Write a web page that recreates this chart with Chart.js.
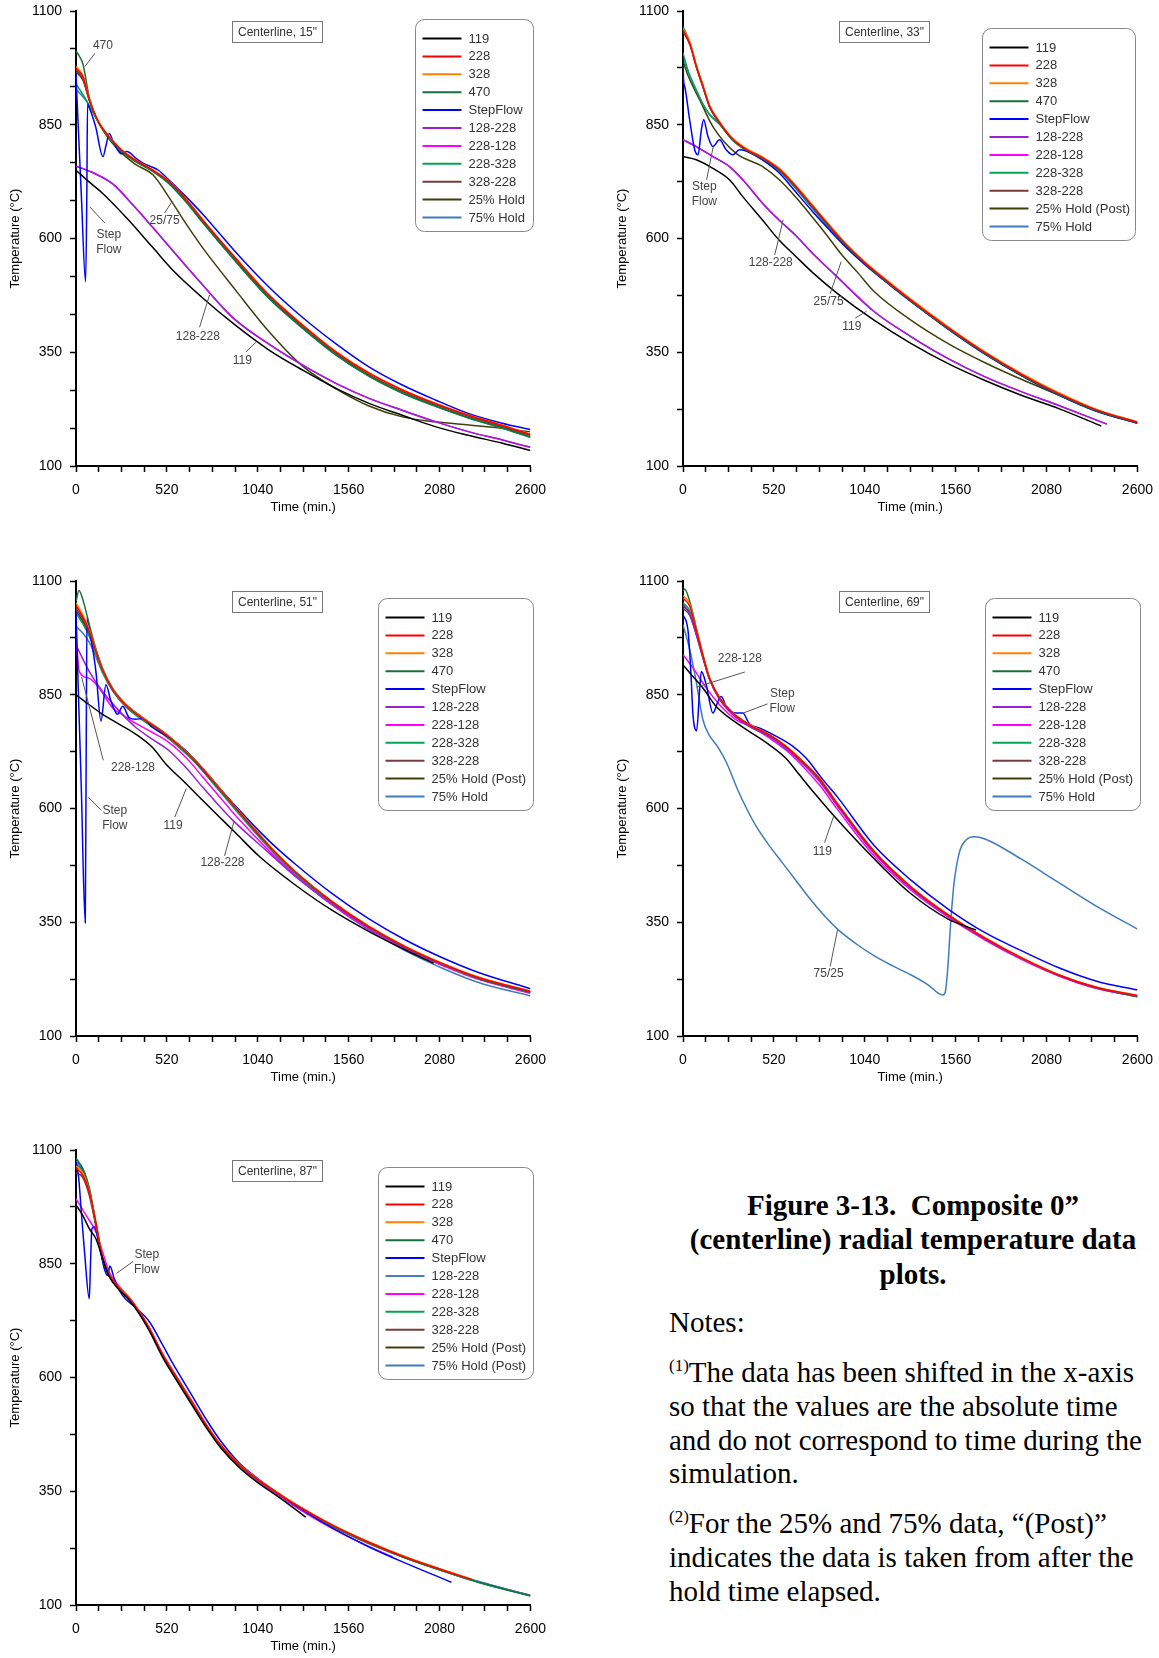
<!DOCTYPE html>
<html>
<head>
<meta charset="utf-8">
<title>Figure 3-13 composite centerline temperatures</title>
<script src="https://cdn.jsdelivr.net/npm/chart.js@4.4.1/dist/chart.umd.min.js"></script>
<style>
  body { margin: 0; background: #fff; width: 1159px; height: 1658px; position: relative; overflow: hidden; }
  .panel { position: absolute; width: 556px; height: 527px; }
  .caption { position: absolute; left: 653px; width: 520px; top: 1188px; text-align: center;
             font: bold 29px/34.4px "Liberation Serif", "Times New Roman", serif; white-space: nowrap; }
  .note { position: absolute; left: 669px; white-space: nowrap;
          font: 29px/33.8px "Liberation Serif", "Times New Roman", serif; }
  .note sup { font-size: 17px; line-height: 0; vertical-align: 11px; }
</style>
</head>
<body>

<div class="panel" style="left:0;top:-9px"><canvas id="cl15" width="556" height="527"></canvas></div>
<div class="panel" style="left:607px;top:-9px"><canvas id="cl33" width="556" height="527"></canvas></div>
<div class="panel" style="left:0;top:561px"><canvas id="cl51" width="556" height="527"></canvas></div>
<div class="panel" style="left:607px;top:561px"><canvas id="cl69" width="556" height="527"></canvas></div>
<div class="panel" style="left:0;top:1130px"><canvas id="cl87" width="556" height="527"></canvas></div>

<div class="caption">Figure 3-13.&nbsp; Composite 0”<br>(centerline) radial temperature data<br>plots.</div>
<div class="note" style="top:1306px">Notes:</div>
<div class="note" style="top:1356px"><sup>(1)</sup>The data has been shifted in the x-axis<br>so that the values are the absolute time<br>and do not correspond to time during the<br>simulation.</div>
<div class="note" style="top:1507px"><sup>(2)</sup>For the 25% and 75% data, “(Post)”<br>indicates the data is taken from after the<br>hold time elapsed.</div>

<script>
// axis tick labels (minor ticks get filled in between)
const timeLabels = [0, 520, 1040, 1560, 2080, 2600];
const tempLabels = [100, 350, 600, 850, 1100];

// legend names
const names15 = ['119', '228', '328', '470', 'StepFlow', '128-228', '228-128', '228-328', '328-228', '25% Hold', '75% Hold'];
const namesPost = ['119', '228', '328', '470', 'StepFlow', '128-228', '228-128', '228-328', '328-228', '25% Hold (Post)', '75% Hold'];
const names87 = ['119', '228', '328', '470', 'StepFlow', '128-228', '228-128', '228-328', '328-228', '25% Hold (Post)', '75% Hold (Post)'];

// line colours (same order as the names)
const lineColors = ['#000000', '#ff0000', '#ff7f00', '#17703a', '#0000ff', '#9a1fd6', '#ff00ff', '#00a651', '#7a3b3b', '#3f3f0a', '#3f7bbd'];
const lineColors87 = ['#000000', '#ff0000', '#ff7f00', '#17703a', '#0000ff', '#4a7fbf', '#ff00ff', '#00a651', '#7a3b3b', '#3f3f0a', '#3f7bbd'];

// ===== Centerline 15" : [time (min), temp (C)] =====
const cl15_119 = [[0,750],[70,726],[150,700],[290,645],[440,580],[560,528],[720,471],[910,410],[1100,356],[1300,310],[1490,270],[1680,237],[1870,211],[2060,186],[2250,167],[2440,150],[2600,134]];
const cl15_228 = [[0,974],[40,955],[76,906],[114,868],[150,843],[250,798],[340,772],[440,750],[530,726],[630,686],[724,641],[914,556],[1105,475],[1295,410],[1486,351],[1676,304],[1867,267],[2057,237],[2248,211],[2438,189],[2600,169]];
const cl15_328 = [[0,978],[40,958],[76,908],[114,869],[150,844],[250,799],[340,773],[440,751],[530,727],[630,687],[724,642],[914,557],[1105,476],[1295,411],[1486,352],[1676,305],[1867,268],[2057,238],[2248,212],[2438,190],[2600,170]];
const cl15_470 = [[0,1012],[20,1000],[40,983],[76,910],[114,866],[150,842],[250,796],[340,770],[440,748],[530,722],[630,681],[724,636],[914,550],[1105,469],[1295,404],[1486,345],[1676,298],[1867,261],[2057,232],[2248,206],[2438,184],[2600,164]];
const cl15_step = [[0,962],[6,905],[30,700],[55,505],[62,700],[66,895],[70,893],[112,846],[154,780],[172,805],[190,831],[217,809],[260,786],[291,791],[344,776],[386,765],[471,750],[534,728],[629,692],[724,654],[914,570],[1105,493],[1295,427],[1486,369],[1676,318],[1867,278],[2057,245],[2248,215],[2438,194],[2600,180]];
const cl15_128228 = [[0,759],[95,745],[210,720],[330,672],[440,624],[570,566],[720,500],[900,425],[1100,369],[1300,321],[1490,281],[1680,248],[1870,222],[2060,197],[2250,175],[2440,157],[2600,141]];
const cl15_228128 = [[0,759],[95,745],[210,720],[330,672],[440,624],[570,566],[720,500],[900,425],[1100,369],[1300,321],[1490,281],[1680,248],[1870,222],[2060,197],[2250,175],[2440,157],[2600,141]];
const cl15_228328 = [[0,940],[57,905],[114,865],[150,841],[250,795],[340,769],[440,747],[530,721],[630,680],[724,635],[914,549],[1105,468],[1295,403],[1486,344],[1676,297],[1867,260],[2057,231],[2248,205],[2438,183],[2600,163]];
const cl15_328228 = [[0,970],[40,950],[76,904],[114,867],[150,842],[250,797],[340,771],[440,749],[530,724],[630,684],[724,639],[914,553],[1105,472],[1295,407],[1486,348],[1676,301],[1867,264],[2057,235],[2248,209],[2438,187],[2600,167]];
const cl15_25hold = [[0,966],[40,948],[76,904],[114,866],[171,828],[250,792],[340,763],[440,740],[533,690],[630,632],[724,580],[914,486],[1105,395],[1295,320],[1486,270],[1676,232],[1867,208],[2057,197],[2248,190],[2438,183],[2600,175]];
const cl15_75hold = [[0,928],[57,903],[114,866],[150,842],[250,796],[340,770],[440,748],[530,722],[630,681],[724,636],[914,550],[1105,469],[1295,404],[1486,345],[1676,298],[1867,261],[2057,232],[2248,206],[2438,184],[2600,163]];

// ===== Centerline 33" =====
const cl33_119 = [[0,780],[76,773],[171,754],[266,729],[342,692],[456,640],[551,596],[647,560],[742,525],[884,479],[1095,420],[1306,369],[1517,325],[1728,288],[1939,255],[2150,226],[2393,188]];
const cl33_228 = [[0,1058],[40,1027],[76,979],[114,935],[152,891],[209,855],[285,818],[361,796],[456,777],[551,752],[628,722],[742,671],[837,628],[932,587],[1040,547],[1200,496],[1306,464],[1517,404],[1728,349],[1939,301],[2150,259],[2362,224],[2600,196]];
const cl33_328 = [[0,1062],[40,1031],[76,982],[114,938],[152,893],[209,857],[285,820],[361,798],[456,779],[551,754],[628,724],[742,673],[837,630],[932,589],[1040,549],[1200,498],[1306,466],[1517,406],[1728,351],[1939,303],[2150,261],[2362,225],[2600,197]];
const cl33_470 = [[0,1066],[40,1030],[76,978],[114,933],[152,889],[209,853],[285,816],[361,794],[456,775],[551,750],[628,720],[742,669],[837,626],[932,585],[1040,545],[1200,494],[1306,462],[1517,402],[1728,347],[1939,299],[2150,257],[2362,222],[2600,195]];
const cl33_step = [[0,1000],[3,950],[10,934],[38,861],[67,795],[86,784],[105,839],[118,861],[143,824],[171,802],[209,817],[247,795],[285,784],[323,795],[361,792],[456,772],[551,744],[628,710],[742,659],[837,619],[932,581],[1040,543],[1200,493],[1306,461],[1517,401],[1728,346],[1939,298],[2150,256],[2362,221],[2600,194]];
const cl33_128228 = [[0,817],[76,802],[171,780],[266,758],[342,729],[456,677],[551,640],[647,606],[742,567],[870,520],[1095,439],[1306,384],[1517,336],[1728,296],[1939,263],[2150,233],[2425,192]];
const cl33_228128 = [[0,817],[76,802],[171,780],[266,758],[342,729],[456,677],[551,640],[647,606],[742,567],[870,520],[1095,439],[1306,384],[1517,336],[1728,296],[1939,263],[2150,233],[2425,192]];
const cl33_228328 = [[0,1000],[30,965],[76,925],[114,895],[152,872],[209,851],[285,816],[361,794],[456,775],[551,750],[628,719],[742,668],[837,625],[932,584],[1040,544],[1200,493],[1306,461],[1517,401],[1728,346],[1939,298],[2150,256],[2362,221],[2600,194]];
const cl33_328228 = [[0,1055],[40,1025],[76,977],[114,933],[152,889],[209,854],[285,817],[361,795],[456,776],[551,751],[628,721],[742,670],[837,627],[932,586],[1040,546],[1200,495],[1306,463],[1517,403],[1728,348],[1939,300],[2150,258],[2362,223],[2600,195]];
const cl33_25hold = [[0,990],[30,957],[95,905],[171,846],[304,787],[456,758],[551,729],[647,690],[742,646],[837,600],[905,566],[1000,525],[1095,483],[1306,420],[1517,369],[1728,327],[1939,290],[2150,256],[2362,222],[2600,195]];
const cl33_75hold = [[0,1008],[30,968],[76,927],[114,896],[152,873],[209,852],[285,816],[361,794],[456,774],[551,748],[628,717],[742,665],[837,622],[932,582],[1040,543],[1200,493],[1306,461],[1517,402],[1728,347],[1939,299],[2150,257],[2362,222],[2600,196]];

// ===== Centerline 51" =====
const cl51_119 = [[0,850],[76,828],[152,807],[248,785],[343,763],[438,734],[514,698],[610,662],[724,618],[819,582],[914,546],[1048,495],[1251,433],[1462,377],[1674,330],[1885,289],[2046,260]];
const cl51_228 = [[0,1046],[40,1020],[76,990],[114,945],[152,905],[210,862],[286,827],[381,798],[495,768],[590,738],[686,703],[800,653],[914,601],[1029,550],[1143,502],[1257,460],[1462,396],[1674,341],[1885,296],[2096,259],[2307,228],[2600,198]];
const cl51_328 = [[0,1052],[40,1025],[76,993],[114,947],[152,906],[210,863],[286,828],[381,799],[495,769],[590,739],[686,704],[800,654],[914,602],[1029,551],[1143,503],[1257,461],[1462,397],[1674,342],[1885,297],[2096,260],[2307,229],[2600,199]];
const cl51_470 = [[0,1055],[17,1079],[40,1058],[76,1004],[114,951],[152,908],[210,864],[286,829],[381,800],[495,770],[590,740],[686,705],[800,655],[914,603],[1029,552],[1143,503],[1257,460],[1462,396],[1674,340],[1885,295],[2096,258],[2307,226],[2600,196]];
const cl51_step = [[0,1032],[10,900],[30,650],[53,349],[58,700],[63,1020],[86,973],[114,901],[143,792],[171,872],[200,836],[238,807],[267,825],[305,799],[343,796],[381,798],[438,778],[533,756],[629,727],[724,686],[819,645],[914,605],[1029,558],[1143,515],[1257,477],[1462,414],[1674,358],[1885,311],[2096,272],[2307,239],[2600,204]];
const cl51_128228 = [[0,959],[76,901],[152,857],[248,814],[343,778],[438,752],[533,727],[629,690],[724,647],[810,610],[895,575],[1105,502],[1251,452],[1462,391],[1674,339],[1885,294],[2089,258]];
const cl51_228128 = [[0,995],[8,940],[19,901],[76,886],[133,864],[210,821],[267,806],[343,787],[438,767],[533,745],[629,712],[724,670],[819,627],[914,584],[1029,537],[1143,492],[1257,452],[1462,389],[1674,335],[1885,291],[2096,255],[2307,224],[2600,194]];
const cl51_228328 = [[0,1030],[40,1005],[76,978],[114,940],[152,902],[210,860],[286,824],[381,795],[495,765],[590,735],[686,700],[800,650],[914,598],[1029,547],[1143,499],[1257,457],[1462,393],[1674,338],[1885,293],[2096,256],[2307,225],[2600,195]];
const cl51_328228 = [[0,1040],[40,1015],[76,985],[114,943],[152,904],[210,861],[286,826],[381,797],[495,767],[590,737],[686,702],[800,652],[914,600],[1029,549],[1143,501],[1257,459],[1462,395],[1674,340],[1885,295],[2096,258],[2307,227],[2600,197]];
const cl51_25hold = [[0,1035],[40,1010],[76,982],[114,942],[152,903],[210,861],[286,825],[381,796],[495,766],[590,736],[686,701],[800,651],[914,599],[1029,548],[1143,500],[1257,458],[1462,394],[1674,339],[1885,294],[2096,257],[2307,226],[2600,196]];
const cl51_75hold = [[0,1000],[40,985],[76,965],[114,933],[152,898],[210,858],[286,823],[381,794],[495,764],[590,734],[686,699],[800,648],[914,596],[1029,545],[1143,497],[1257,454],[1462,389],[1674,333],[1885,287],[2096,249],[2307,217],[2600,188]];

// ===== Centerline 69" =====
const cl69_119 = [[0,916],[57,890],[114,865],[190,824],[266,799],[380,769],[494,740],[590,710],[666,674],[760,630],[863,584],[1095,489],[1306,412],[1517,357],[1676,333]];
const cl69_228 = [[0,1062],[38,1045],[76,992],[114,936],[152,886],[209,843],[285,810],[380,784],[494,762],[590,736],[685,703],[780,666],[884,610],[1095,505],[1306,427],[1517,366],[1728,315],[1939,271],[2150,234],[2362,207],[2600,189]];
const cl69_328 = [[0,1068],[38,1050],[76,995],[114,938],[152,887],[209,844],[285,811],[380,785],[494,763],[590,737],[685,704],[780,667],[884,611],[1095,506],[1306,428],[1517,367],[1728,316],[1939,272],[2150,235],[2362,208],[2600,189]];
const cl69_470 = [[0,1078],[10,1082],[38,1056],[76,997],[114,938],[152,887],[209,843],[285,810],[380,784],[494,762],[590,736],[685,703],[780,666],[884,610],[1095,505],[1306,427],[1517,366],[1728,315],[1939,271],[2150,234],[2362,207],[2600,187]];
const cl69_step = [[0,1026],[29,990],[45,900],[57,806],[78,771],[95,860],[105,901],[133,872],[171,810],[200,835],[219,846],[247,824],[304,810],[342,810],[380,786],[437,777],[532,759],[627,737],[704,711],[799,664],[884,625],[1095,518],[1306,442],[1517,379],[1728,327],[1939,287],[2150,250],[2362,221],[2600,201]];
const cl69_128228 = [[0,1049],[38,1028],[76,983],[114,932],[152,883],[209,840],[285,806],[380,780],[494,758],[590,731],[685,698],[780,660],[884,605],[1095,501],[1306,424],[1517,364],[1728,313],[1939,270],[2150,233],[2362,206],[2600,187]];
const cl69_228128 = [[0,938],[57,909],[133,865],[209,828],[304,795],[400,778],[494,755],[590,728],[685,693],[780,652],[884,598],[1095,495],[1306,420],[1517,361],[1728,311],[1939,268],[2150,232],[2362,205],[2600,187]];
const cl69_228328 = [[0,1052],[38,1035],[76,988],[114,934],[152,885],[209,842],[285,809],[380,783],[494,761],[590,735],[685,702],[780,665],[884,609],[1095,504],[1306,426],[1517,365],[1728,314],[1939,270],[2150,233],[2362,206],[2600,186]];
const cl69_328228 = [[0,1040],[38,1025],[76,982],[114,931],[152,884],[209,841],[285,808],[380,782],[494,760],[590,734],[685,701],[780,663],[884,607],[1095,503],[1306,425],[1517,365],[1728,314],[1939,270],[2150,233],[2362,206],[2600,187]];
const cl69_25hold = [[0,1045],[38,1030],[76,985],[114,933],[152,885],[209,842],[285,809],[380,783],[494,761],[590,735],[685,702],[780,664],[884,608],[1095,504],[1306,426],[1517,365],[1728,314],[1939,270],[2150,233],[2362,206],[2600,187]];
const cl69_75hold = [[0,1004],[38,950],[76,878],[114,795],[152,760],[200,735],[250,700],[314,640],[370,595],[420,560],[500,515],[568,481],[640,445],[715,407],[800,368],[884,335],[1000,300],[1095,276],[1200,254],[1306,234],[1400,213],[1486,190],[1500,196],[1515,250],[1530,340],[1549,430],[1581,503],[1623,532],[1665,538],[1728,533],[1939,488],[2150,437],[2362,386],[2600,335]];

// ===== Centerline 87" =====
const cl87_119 = [[0,979],[38,957],[76,927],[114,905],[152,862],[190,822],[248,792],[305,770],[362,740],[419,703],[495,645],[570,597],[661,541],[750,487],[829,445],[940,400],[1040,369],[1150,340],[1250,312],[1315,293]];
const cl87_228 = [[0,1060],[38,1045],[76,1008],[114,940],[152,864],[190,826],[248,796],[305,774],[362,744],[419,708],[495,651],[570,604],[661,548],[750,493],[829,451],[940,406],[1040,376],[1150,347],[1251,322],[1463,276],[1674,238],[1885,205],[2096,177],[2264,156]];
const cl87_328 = [[0,1065],[38,1050],[76,1010],[114,942],[152,865],[190,827],[248,797],[305,775],[362,745],[419,709],[495,652],[570,605],[661,549],[750,494],[829,452],[940,407],[1040,377],[1150,348],[1251,323],[1463,277],[1674,239],[1885,206],[2096,178],[2264,157]];
const cl87_470 = [[0,1082],[38,1059],[76,1015],[114,935],[152,861],[190,824],[248,795],[305,773],[362,743],[419,707],[495,650],[570,603],[661,547],[750,492],[829,450],[940,405],[1040,375],[1150,346],[1251,321],[1463,275],[1674,237],[1885,204],[2096,176],[2307,150],[2600,120]];
const cl87_step = [[0,1074],[15,1040],[29,971],[50,870],[76,773],[83,850],[91,927],[105,931],[133,890],[162,839],[181,824],[194,845],[219,817],[267,780],[343,753],[419,723],[495,672],[552,632],[661,562],[750,505],[829,460],[940,410],[1040,378],[1150,347],[1251,320],[1463,270],[1674,228],[1885,192],[2148,150]];
const cl87_128228 = [[0,1070],[38,1052],[76,1012],[114,938],[152,862],[190,825],[248,796],[305,774],[362,744],[419,708],[495,651],[570,604],[661,548],[750,493],[829,451],[940,406],[1040,376],[1150,347],[1251,322],[1463,276],[1674,238],[1885,205],[2096,177],[2307,151],[2600,121]];
const cl87_228128 = [[0,993],[57,957],[114,920],[152,876],[190,832],[248,800],[305,776],[362,746],[419,710],[495,653],[570,605],[661,549],[750,493],[829,450],[940,404],[1040,373],[1150,343],[1251,317],[1463,269],[1674,229],[1811,206]];
const cl87_228328 = [[0,1075],[38,1060],[76,1016],[114,936],[152,860],[190,823],[248,794],[305,772],[362,742],[419,706],[495,649],[570,602],[661,546],[750,491],[829,449],[940,404],[1040,374],[1150,345],[1251,320],[1463,274],[1674,236],[1885,203],[2096,175],[2307,149],[2600,120]];
const cl87_328228 = [[0,1050],[38,1040],[76,1000],[114,932],[152,859],[190,822],[248,793],[305,771],[362,741],[419,705],[495,648],[570,601],[661,545],[750,490],[829,448],[940,403],[1040,373],[1150,344],[1251,319],[1463,273],[1674,235],[1885,203],[2096,175],[2264,154]];
const cl87_25hold = [[0,1068],[38,1054],[76,1012],[114,937],[152,861],[190,824],[248,795],[305,773],[362,743],[419,707],[495,650],[570,603],[661,547],[750,492],[829,450],[940,405],[1040,375],[1150,346],[1251,321],[1463,275],[1674,237],[1885,204],[2096,176],[2307,150],[2600,121]];
const cl87_75hold = [[0,1072],[38,1055],[76,1013],[114,937],[152,862],[190,825],[248,796],[305,774],[362,744],[419,708],[495,651],[570,604],[661,548],[750,493],[829,451],[940,406],[1040,376],[1150,347],[1251,322],[1463,276],[1674,238],[1885,205],[2096,177],[2307,151],[2600,121]];

// callout labels on the plots: [text, time, temp] and leader lines [t1, T1, t2, T2]
const notes15 = [['470',154,1023],['Step',188,608],['Flow',188,576],['25/75',507,639],['128-228',697,384],['119',952,332]];
const leaders15 = [[108,1007,51,978],[165,634,80,669],[507,656,546,679],[707,405,764,476],[973,351,1030,372]];
const notes33 = [['Step',122,713],['Flow',122,680],['128-228',502,546],['25/75',833,462],['119',966,406]];
const leaders33 = [[135,729,173,802],[525,564,573,641],[842,479,905,549],[985,425,1050,440]];
const notes51 = [['228-128',326,689],['Step',222,596],['Flow',222,563],['119',555,563],['128-228',838,482]];
const leaders51 = [[156,706,32,889],[146,596,70,625],[565,581,631,644],[850,496,903,570]];
const notes69 = [['228-128',325,929],['Step',568,852],['Flow',568,820],['119',797,505],['75/25',833,238]];
const leaders69 = [[354,900,78,867],[484,830,332,808],[810,525,863,584],[842,253,884,333]];
const notes87 = [['Step',405,871],['Flow',405,838]];
const leaders87 = [[327,855,232,829]];

const FONT = '"Liberation Sans", Arial, sans-serif';

// fill minor ticks between the labelled ones
function subTicks(labels, parts) {
    const out = [];
    for (let i = 0; i < labels.length - 1; i++) {
        const step = (labels[i + 1] - labels[i]) / parts;
        for (let k = 0; k < parts; k++) out.push(labels[i] + k * step);
    }
    out.push(labels[labels.length - 1]);
    return out;
}

// draws the callouts, the "Centerline" box and the legend box on top of the plot
const decor = {
    id: 'decor',
    afterDraw(chart, args, opts) {
        const ctx = chart.ctx;
        const area = chart.chartArea;
        const xs = chart.scales.x, ys = chart.scales.y;
        ctx.save();

        // leader lines + labels
        ctx.strokeStyle = '#555';
        ctx.lineWidth = 1;
        opts.leaders.forEach(l => {
            ctx.beginPath();
            ctx.moveTo(xs.getPixelForValue(l[0]), ys.getPixelForValue(l[1]));
            ctx.lineTo(xs.getPixelForValue(l[2]), ys.getPixelForValue(l[3]));
            ctx.stroke();
        });
        ctx.font = '12px ' + FONT;
        ctx.fillStyle = '#444';
        ctx.textAlign = 'center';
        ctx.textBaseline = 'middle';
        opts.notes.forEach(n => ctx.fillText(n[0], xs.getPixelForValue(n[1]), ys.getPixelForValue(n[2])));

        // title box
        const bx = Math.round(area.left + 156), by = Math.round(area.top + 10);
        ctx.fillStyle = '#fff';
        ctx.fillRect(bx, by, 90, 21);
        ctx.strokeStyle = '#777';
        ctx.strokeRect(bx + 0.5, by + 0.5, 90, 21);
        ctx.fillStyle = '#333';
        ctx.fillText(opts.title, bx + 45.5, by + 11.5);

        // legend box
        const lb = opts.legendBox;
        const lx = Math.round(area.left + lb.dx) + 0.5, ly = Math.round(area.top + lb.dy) + 0.5;
        ctx.beginPath();
        ctx.roundRect(lx, ly, lb.w, lb.h, 9);
        ctx.fillStyle = '#fff';
        ctx.fill();
        ctx.strokeStyle = '#888';
        ctx.lineWidth = 1;
        ctx.stroke();
        ctx.font = '13px ' + FONT;
        ctx.textAlign = 'left';
        chart.data.datasets.forEach((ds, i) => {
            const y = ly + 19 + i * 17.9;
            ctx.strokeStyle = ds.borderColor;
            ctx.lineWidth = 2;
            ctx.beginPath();
            ctx.moveTo(lx + 7, y);
            ctx.lineTo(lx + 46, y);
            ctx.stroke();
            ctx.fillStyle = '#333';
            ctx.fillText(ds.label, lx + 53, y + 0.5);
        });
        ctx.restore();
    }
};

const timeTicks = subTicks(timeLabels, 4);

function makeChart(id, names, colors, series, notes, leaders, title, legendBox, tempParts) {
    const tempTicks = subTicks(tempLabels, tempParts);
    const datasets = series.map((pts, i) => ({
        label: names[i],
        data: pts.map(p => ({ x: p[0], y: p[1] })),
        borderColor: colors[i],
        borderWidth: 1.5,
        pointRadius: 0,
        fill: false,
        cubicInterpolationMode: 'monotone'
    }));
    const axisBits = {
        grid: { drawOnChartArea: false, drawTicks: true, tickLength: 6, tickWidth: 1.5, tickColor: '#000' },
        border: { display: true, color: '#000', width: 2 }
    };
    return new Chart(document.getElementById(id), {
        type: 'line',
        data: { datasets },
        options: {
            responsive: false,
            animation: false,
            events: [],
            // plot area ends up at (76, 20) - (532, 475) inside each canvas
            layout: { autoPadding: false, padding: { left: 0, top: 20, right: 24, bottom: 0 } },
            plugins: {
                legend: { display: false },
                tooltip: { enabled: false },
                decor: { notes, leaders, title, legendBox }
            },
            scales: {
                x: {
                    type: 'linear', min: 0, max: 2600,
                    afterBuildTicks: axis => { axis.ticks = timeTicks.map(v => ({ value: v })); },
                    afterFit: axis => { axis.height = 52; },
                    ticks: {
                        autoSkip: false, maxRotation: 0, padding: 10, color: '#000',
                        font: { size: 14, family: FONT },
                        callback: v => timeLabels.includes(v) ? String(v) : ''
                    },
                    title: { display: true, text: 'Time (min.)', color: '#000', font: { size: 13, family: FONT }, padding: { top: 0, bottom: 3 } },
                    ...axisBits
                },
                y: {
                    type: 'linear', min: 100, max: 1100,
                    afterBuildTicks: axis => { axis.ticks = tempTicks.map(v => ({ value: v })); },
                    afterFit: axis => { axis.width = 76; },
                    ticks: {
                        autoSkip: false, padding: 8, color: '#000',
                        font: { size: 14, family: FONT },
                        callback: v => tempLabels.includes(v) ? String(v) : ''
                    },
                    title: { display: true, text: 'Temperature (°C)', color: '#000', font: { size: 13, family: FONT }, padding: { top: 8, bottom: 0 } },
                    ...axisBits
                }
            }
        },
        plugins: [decor]
    });
}

const legendSmall = { dx: 339, dy: 8, w: 118, h: 212 };
const legend33 = { dx: 299, dy: 17, w: 153, h: 212 };
const legendWide = { dx: 302, dy: 17, w: 155, h: 212 };

window.onload = function () {
    makeChart('cl15', names15, lineColors,
        [cl15_119, cl15_228, cl15_328, cl15_470, cl15_step, cl15_128228, cl15_228128, cl15_228328, cl15_328228, cl15_25hold, cl15_75hold],
        notes15, leaders15, 'Centerline, 15"', legendSmall, 3);
    makeChart('cl33', namesPost, lineColors,
        [cl33_119, cl33_228, cl33_328, cl33_470, cl33_step, cl33_128228, cl33_228128, cl33_228328, cl33_328228, cl33_25hold, cl33_75hold],
        notes33, leaders33, 'Centerline, 33"', legend33, 2);
    makeChart('cl51', namesPost, lineColors,
        [cl51_119, cl51_228, cl51_328, cl51_470, cl51_step, cl51_128228, cl51_228128, cl51_228328, cl51_328228, cl51_25hold, cl51_75hold],
        notes51, leaders51, 'Centerline, 51"', legendWide, 2);
    makeChart('cl69', namesPost, lineColors,
        [cl69_119, cl69_228, cl69_328, cl69_470, cl69_step, cl69_128228, cl69_228128, cl69_228328, cl69_328228, cl69_25hold, cl69_75hold],
        notes69, leaders69, 'Centerline, 69"', legendWide, 2);
    makeChart('cl87', names87, lineColors87,
        [cl87_119, cl87_228, cl87_328, cl87_470, cl87_step, cl87_128228, cl87_228128, cl87_228328, cl87_328228, cl87_25hold, cl87_75hold],
        notes87, leaders87, 'Centerline, 87"', legendWide, 2);
};
</script>
</body>
</html>
